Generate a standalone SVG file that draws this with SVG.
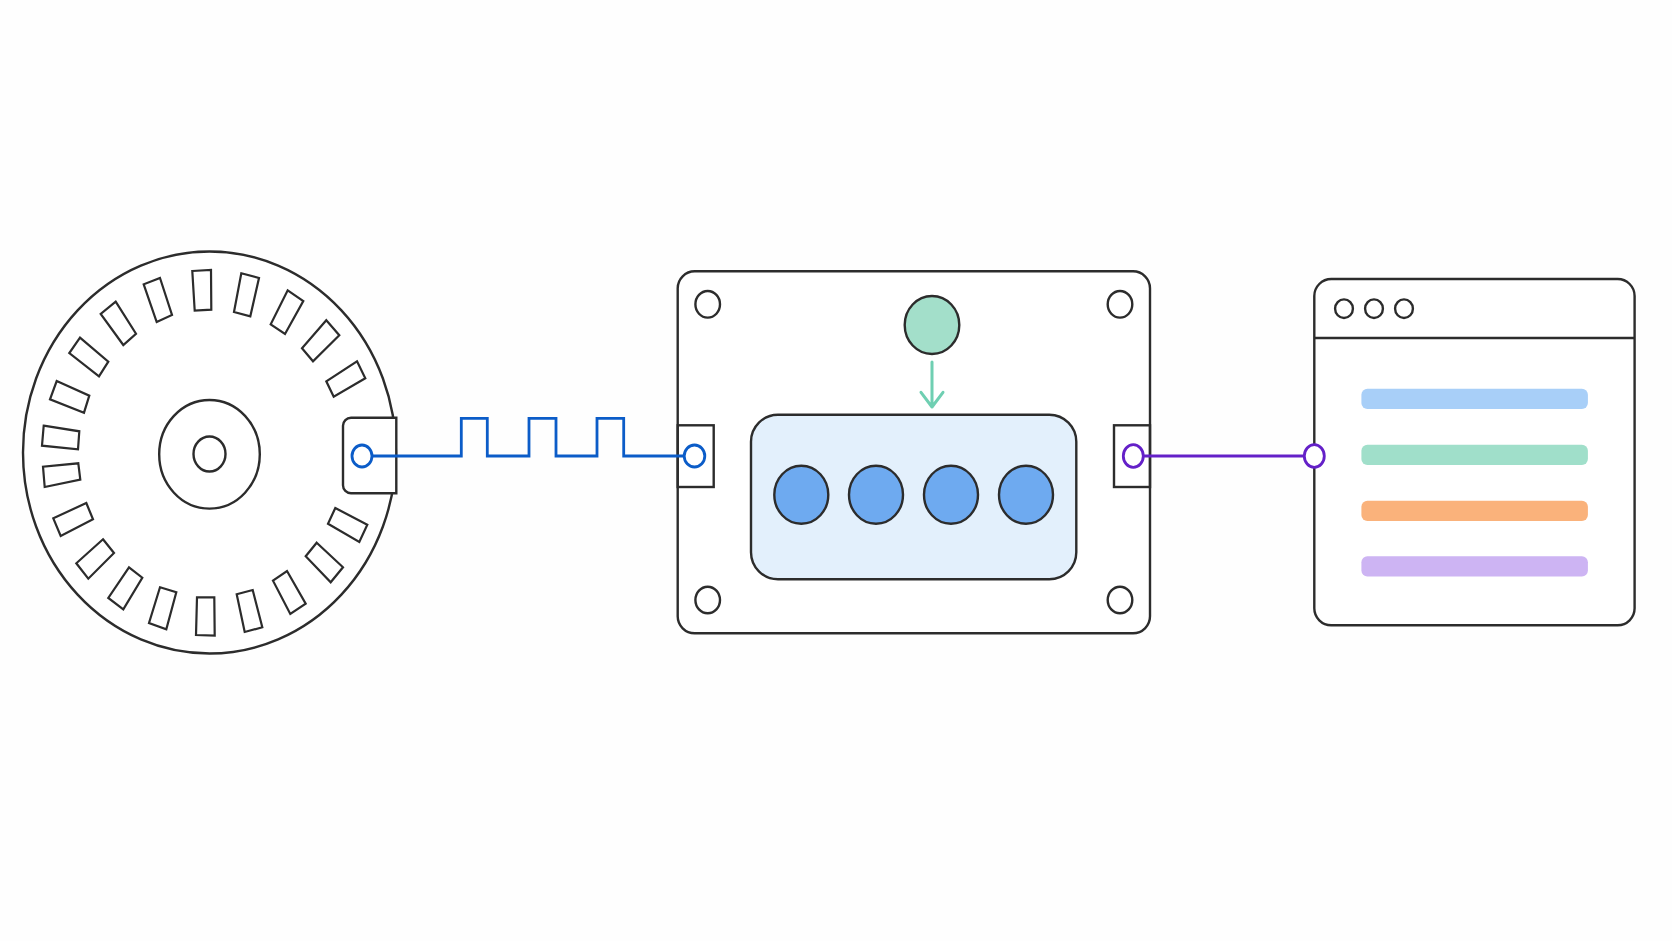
<svg xmlns="http://www.w3.org/2000/svg" width="1672" height="941" viewBox="0 0 1672 941">
<style>
.o{fill:none;stroke:#2c2c2c;stroke-width:2.4}
.w{fill:#fff;stroke:#2c2c2c;stroke-width:2.4}
.s{fill:#fff;stroke:#2c2c2c;stroke-width:2.2;stroke-linejoin:miter}
.b{fill:#6eaaf0;stroke:#2c2c2c;stroke-width:2.4}
.pb{fill:#fff;stroke:#0b5cc8;stroke-width:2.8}
.pp{fill:#fff;stroke:#6420c8;stroke-width:2.8}
</style>
<rect width="1672" height="941" fill="#fefefe"/>
<g id="encoder-disc">
<ellipse class="w" cx="209.5" cy="452.5" rx="186.5" ry="201"/>
<ellipse class="o" cx="209.5" cy="454.3" rx="50.3" ry="54.3"/>
<ellipse class="o" cx="209.5" cy="454" rx="16" ry="17.5"/>
<g id="slots">
<polygon class="s" points="192.3,271 211,270 211.3,309.7 194.7,310.7"/>
<polygon class="s" points="241.3,273.3 259,278 250.3,316.3 234,312"/>
<polygon class="s" points="287.7,290.3 303.3,301 285,334 270.7,324.3"/>
<polygon class="s" points="326.3,320.3 339.3,335.3 313,361.3 302,348.3"/>
<polygon class="s" points="357,361.3 365.3,378.3 333.7,396.7 326.3,381.3"/>
<polygon class="s" points="335.3,508 367.3,524.7 359.3,542 328,523.7"/>
<polygon class="s" points="316.7,542.7 343,567.3 330.7,582.3 305.7,556.3"/>
<polygon class="s" points="287,571 305.7,603.7 290.3,614 273,580.7"/>
<polygon class="s" points="252.7,590 262.3,627.3 244.7,632 236.7,594.3"/>
<polygon class="s" points="197,597.3 214.3,597.3 214.7,635.7 196,635"/>
<polygon class="s" points="160,587.3 176.3,592.3 166.3,629.3 149,623"/>
<polygon class="s" points="129,567.3 142.3,577.7 123.3,609.3 108.3,598"/>
<polygon class="s" points="103,539.3 114,553 88.3,578.7 76.3,563.3"/>
<polygon class="s" points="86.3,503 93,519.3 60.7,536 53.3,518.3"/>
<polygon class="s" points="78.3,463.3 80.3,479.7 44.7,487 43,466.7"/>
<polygon class="s" points="43.7,425.7 79.3,431.3 78,449.3 42,445.7"/>
<polygon class="s" points="56.7,381 89.3,395.7 84,412.7 50,399.3"/>
<polygon class="s" points="80,337.7 108.3,361.7 99,376.3 69.3,353"/>
<polygon class="s" points="115.7,301.7 136,333.7 123.3,345 100.7,314"/>
<polygon class="s" points="160,278 172,315 156.7,322 143.7,284.3"/>
</g>
</g>
<g id="sensor">
<path class="w" d="M396.3 417.7H351a8 8 0 0 0-8 8V485.300a8 8 0 0 0 8 8H396.3Z"/>
</g>
<g id="controller">
<rect class="w" x="677.700" y="271.300" width="472.300" height="362" rx="17"/>
<rect class="o" x="677.700" y="425.300" width="36" height="61.700"/>
<rect class="o" x="1114" y="425.300" width="36" height="61.700"/>
<ellipse class="o" cx="707.700" cy="304.300" rx="12.300" ry="13.300"/>
<ellipse class="o" cx="1120" cy="304.300" rx="12.300" ry="13.300"/>
<ellipse class="o" cx="707.700" cy="600" rx="12.300" ry="13.300"/>
<ellipse class="o" cx="1120" cy="600" rx="12.300" ry="13.300"/>
<ellipse cx="932" cy="325" rx="27.300" ry="29" fill="#a3dfca" stroke="#2c2c2c" stroke-width="2.400"/>
<rect x="751" y="414.700" width="325.300" height="164.600" rx="27" fill="#e3f0fc" stroke="#2c2c2c" stroke-width="2.400"/>
<ellipse class="b" cx="801.300" cy="494.700" rx="27" ry="29"/>
<ellipse class="b" cx="876" cy="494.700" rx="27" ry="29"/>
<ellipse class="b" cx="951" cy="494.700" rx="27" ry="29"/>
<ellipse class="b" cx="1026" cy="494.700" rx="27" ry="29"/>
</g>
<g id="window">
<rect class="w" x="1314.300" y="279" width="320.300" height="346.300" rx="17"/>
<line class="o" x1="1314.300" y1="338" x2="1634.600" y2="338"/>
<ellipse class="o" cx="1344" cy="308.700" rx="8.900" ry="9.300"/>
<ellipse class="o" cx="1374" cy="308.700" rx="8.900" ry="9.300"/>
<ellipse class="o" cx="1404" cy="308.700" rx="8.900" ry="9.300"/>
<rect x="1361.400" y="388.700" width="226.500" height="20.300" rx="6" fill="#a8cff8"/>
<rect x="1361.400" y="444.700" width="226.500" height="20.300" rx="6" fill="#a0dfca"/>
<rect x="1361.400" y="500.700" width="226.500" height="20.300" rx="6" fill="#fab27b"/>
<rect x="1361.400" y="556.300" width="226.500" height="20.300" rx="6" fill="#cdb4f3"/>
</g>
<g id="connectors" fill="none" stroke-linejoin="miter">
<path d="M372 456H461.300V418.300H487.300V456H529V418.300H556V456H597V418.300H623.700V456H684" stroke="#0b5cc8" stroke-width="2.800"/>
<path d="M1143 456H1304" stroke="#6420c8" stroke-width="2.800"/>
<path d="M932 362V407M921 392.300L932 407L943 392.300" stroke="#6fcfb2" stroke-width="3" stroke-linecap="round" stroke-linejoin="round"/>
<ellipse class="pb" cx="362" cy="456" rx="10" ry="11"/>
<ellipse class="pb" cx="694.500" cy="456" rx="10.300" ry="11"/>
<ellipse class="pp" cx="1133.300" cy="456" rx="10" ry="11.300"/>
<ellipse class="pp" cx="1314.300" cy="456" rx="10" ry="11.300"/>
</g>
</svg>
